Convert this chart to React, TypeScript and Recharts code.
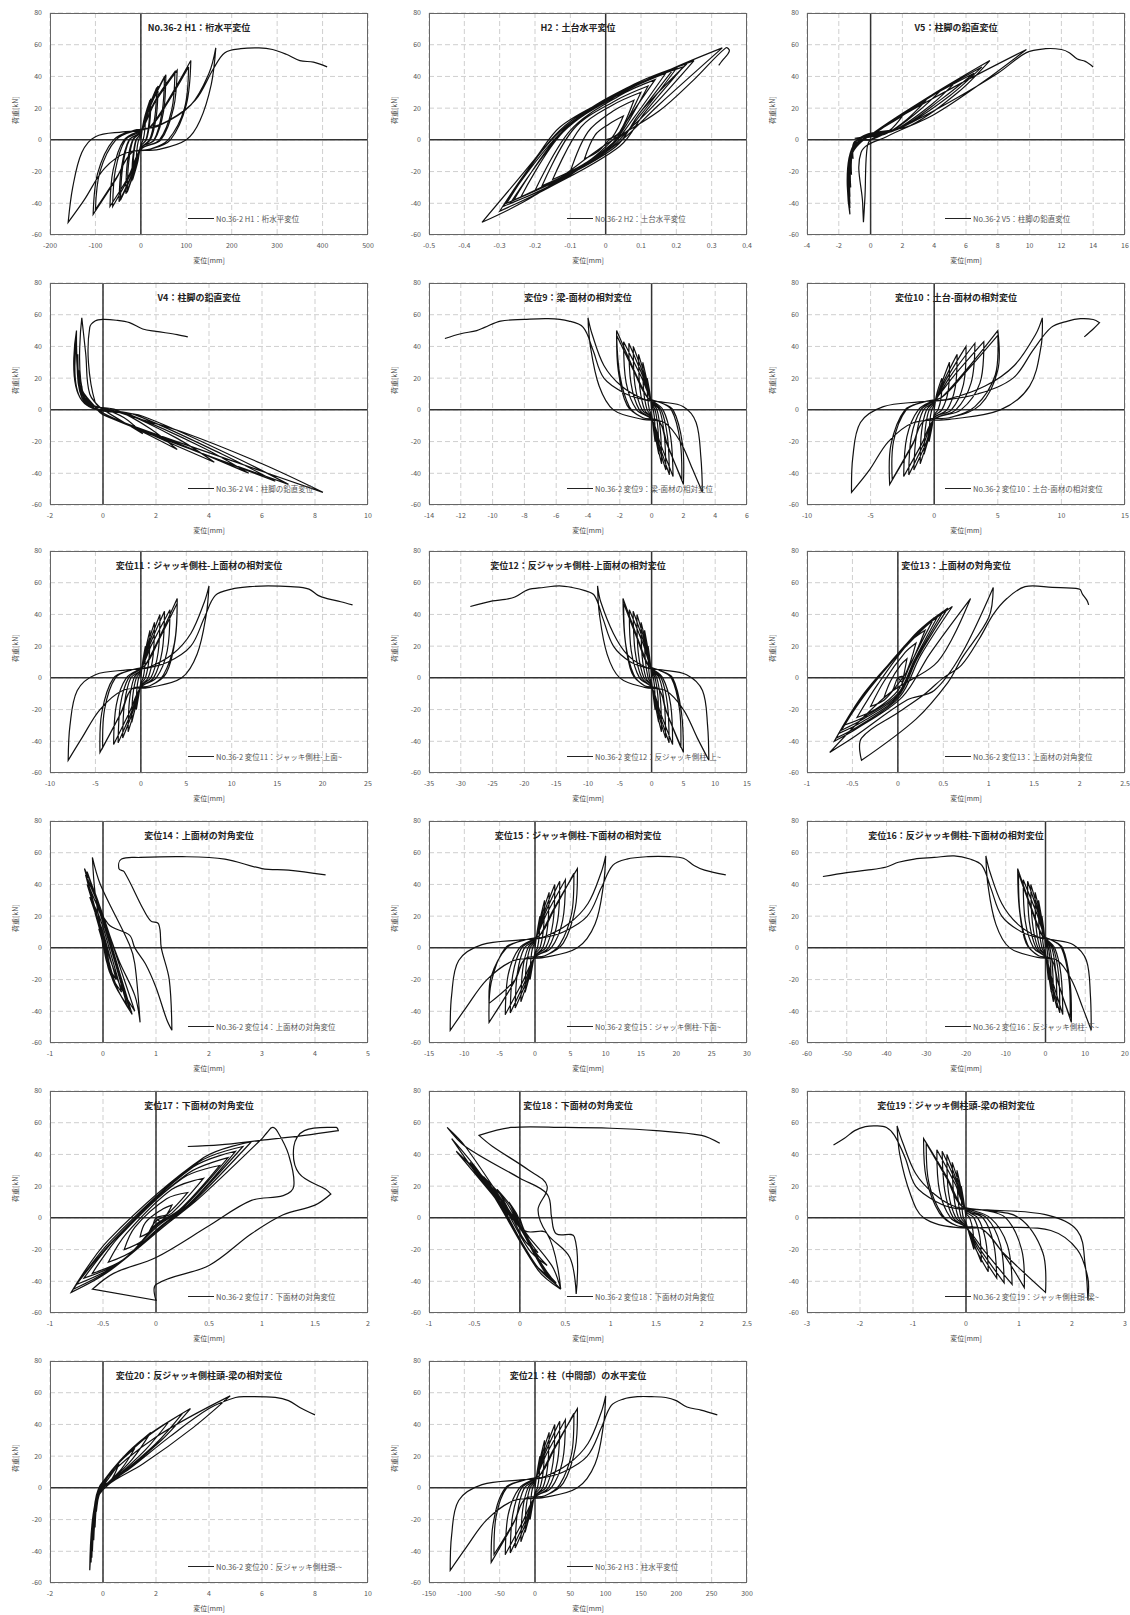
import { LineChart, Line, XAxis, YAxis, CartesianGrid, ReferenceLine } from "recharts";

// load-displacement loops, [displacement, load] in drawing order (one row per cycle)
const h1: number[][] = [
  [0,0],[4,8],[10,15],[9,7],[5,0],[0,-3],[-4,-8],[-10,-15],[-9,-7],[-5,0],[0,3],
  [8,14],[20,25],[18,11],[11,0],[0,-4],[-7,-14],[-18,-25],[-16,-11],[-10,0],[0,4],
  [9,14],[22,26],[20,12],[12,0],[0,-4],[-8,-14],[-20,-26],[-18,-12],[-11,0],[0,4],
  [14,18],[35,33],[31,15],[19,0],[0,-5],[-12,-18],[-30,-33],[-27,-15],[-17,0],[0,5],
  [15,19],[38,34],[34,15],[21,0],[0,-5],[-13,-19],[-33,-34],[-30,-15],[-18,0],[0,5],
  [21,22],[52,40],[47,18],[29,0],[0,-5],[-18,-21],[-45,-38],[-40,-17],[-25,0],[0,5],
  [22,22],[55,41],[50,18],[30,0],[0,-5],[-19,-21],[-48,-39],[-43,-18],[-26,0],[0,5],
  [30,24],[75,43],[68,19],[41,0],[0,-6],[-25,-23],[-62,-42],[-56,-19],[-34,0],[0,6],
  [32,24],[80,44],[72,20],[44,0],[0,-6],[-27,-23],[-68,-42],[-61,-19],[-37,0],[0,6],
  [20,8],[60,25],[110,50],[100,22],[65,0],[20,-6],[-20,-8],[-55,-25],[-105,-47],[-95,-21],[-60,0],[-15,6],
  [20,8],[58,23],[105,46],[96,20],[60,0],[18,-6],[-20,-8],[-52,-23],[-100,-44],[-90,-20],[-55,0],[-10,6],
  [40,9],[110,22],[150,42],[165,58],[155,35],[130,12],[100,0],[40,-6],[-30,-8],[-80,-18],[-125,-38],[-160,-52],[-150,-30],[-130,-8],[-100,2],[-40,5],[0,6],
  [60,12],[120,25],[160,45],[185,55],[220,57.5],[260,58],[290,57],[320,54],[350,50],[380,49],[410,46],
];
const h2: number[][] = [
  [0,0],[0.02,2],[0.05,15],[0.01,10],[-0.03,3],[-0.06,-12],[-0.02,-7],[0.01,0],
  [0.04,5],[0.08,25],[0.02,18],[-0.05,5],[-0.1,-20],[-0.04,-12],[0.02,0],
  [0.05,8],[0.1,30],[0.02,22],[-0.07,8],[-0.15,-25],[-0.06,-15],[0.02,-2],
  [0.06,10],[0.12,34],[0.03,25],[-0.09,7],[-0.18,-29],[-0.08,-18],[0.02,-2],
  [0.06,12],[0.14,38],[0.04,28],[-0.1,6],[-0.2,-32],[-0.09,-20],[0.02,-3],
  [0.08,14],[0.17,42],[0.05,30],[-0.12,5],[-0.24,-36],[-0.11,-22],[0.02,-4],
  [0.1,16],[0.2,45],[0.06,32],[-0.13,6],[-0.28,-40],[-0.14,-26],[0.03,-4],
  [0.09,15],[0.19,44],[0.05,31],[-0.12,6],[-0.26,-38],[-0.13,-24],[0.03,-4],
  [0.1,18],[0.23,48],[0.08,35],[-0.1,10],[-0.27,-40],[-0.12,-25],[0.02,-2],
  [0.12,18],[0.25,50],[0.1,36],[-0.13,5],[-0.3,-45],[-0.16,-30],[0.04,-4],
  [0.11,17],[0.22,46],[0.08,34],[-0.12,6],[-0.29,-42],[-0.15,-28],[0.03,-3],
  [0.15,22],[0.33,58],[0.2,46],[0,25],[-0.13,8],[-0.2,-12],[-0.35,-52],[-0.2,-35],[0,-3],[0.15,18],
  [0.25,38],[0.34,58],[0.35,56],[0.33,50],[0.32,47],
];
const v5: number[][] = [
  [0,0],[-1,1],[0,3],[1,9],[2,15],[1.2,6],[0,0],[-1,-1],[-1.1,-12],[-1,-3],
  [0,3],[1.8,14],[3.5,25],[2.3,13],[1,4],[-0.9,-2],[-1.2,-22],[-1.05,-5],
  [0,3],[2.2,17],[4.5,32],[3,18],[1.2,5],[-1,-2],[-1.25,-30],[-1.1,-6],
  [0,3],[2.8,21],[5.5,38],[3.8,22],[1.5,6],[-1,-2],[-1.3,-36],[-1.1,-7],
  [0,3],[3.2,24],[6.5,42],[4.5,26],[1.8,7],[-1,-2],[-1.3,-40],[-1.15,-8],
  [0,3],[3.5,26],[7,46],[5,28],[2,8],[-1,-2],[-1.3,-43],[-1.15,-8],
  [0,3],[3.8,28],[7.5,50],[5.5,30],[2.5,9],[-1,-2],[-1.3,-47],[-1.2,-10],
  [0,3],[5,32],[9.8,57],[7,36],[4,16],[1,2],[-0.6,-8],[-0.5,-40],[-0.45,-52],[-0.35,-35],[-0.25,-8],[0,0],
  [2,8],[5,24],[8,42],[9.8,55],[11,57.5],[12,57],[12.5,55],[13,51],[13.5,49.5],[14,46],
];
const v4: number[][] = [
  [0,0],[0.8,-8],[1.5,-15],[0.8,-5],[0,1],[-0.6,4],[-0.8,15],[-0.7,6],[-0.3,2],
  [0,-2],[1.5,-14],[2.8,-25],[1.8,-12],[0.5,0],[-0.7,5],[-0.9,25],[-0.75,8],[-0.3,2],
  [0,-2],[2,-17],[4.2,-33],[2.8,-18],[0.8,-2],[-0.7,5],[-0.95,35],[-0.8,10],[-0.3,2],
  [0,-3],[2.8,-21],[5.5,-40],[3.8,-24],[1,-3],[-0.8,6],[-1,42],[-0.85,12],[-0.3,2],
  [0,-3],[3.2,-24],[6.5,-45],[4.5,-28],[1.2,-3],[-0.8,6],[-1,48],[-0.85,14],[-0.3,2],
  [0,-3],[3.5,-26],[7,-47],[5,-30],[1.5,-4],[-0.8,6],[-1,50],[-0.85,15],[-0.3,2],
  [0,-3],[4.5,-30],[8.3,-52],[6,-34],[3,-14],[0.5,-1],[-0.7,8],[-0.8,58],[-0.65,35],[-0.5,10],[0,0],
  [-0.3,5],[-0.55,30],[-0.5,52],[-0.3,56],[0,57],[0.5,56.5],[1,55],[1.5,51],[2,49.5],[2.8,47.5],[3.2,46],
];
const d9: number[][] = [
  [0,0],[-0.1,10],[-0.28,20],[-0.25,8],[-0.14,0],[0,-3],[0.09,-10],[0.22,-20],[0.2,-8],[0.11,0],[0,3],
  [-0.22,15],[-0.55,30],[-0.5,12],[-0.28,0],[0,-4],[0.18,-14],[0.45,-28],[0.4,-12],[0.22,0],[0,4],
  [-0.33,18],[-0.82,35],[-0.74,14],[-0.44,0],[0,-5],[0.25,-18],[0.63,-34],[0.56,-14],[0.34,0],[0,5],
  [-0.44,20],[-1.15,40],[-1.05,16],[-0.6,0],[0,-5],[0.36,-20],[0.9,-38],[0.8,-16],[0.5,0],[0,5],
  [-0.55,21],[-1.43,42],[-1.3,17],[-0.77,0],[0,-6],[0.45,-21],[1.12,-41],[1,-17],[0.6,0],[0,6],
  [-0.66,21],[-1.76,43],[-1.6,17],[-0.94,0],[0,-6],[0.54,-21],[1.35,-42],[1.2,-17],[0.72,0],[0,6],
  [-0.28,8],[-1.1,25],[-2.2,50],[-2.1,25],[-1.55,3],[-0.55,-5],[0.45,-7],[1,-22],[2,-47],[1.95,-22],[1.35,0],[0.45,5],
  [-0.28,8],[-1.1,24],[-2.2,47],[-2,22],[-1.4,2],[-0.55,-5],[0.45,-7],[0.9,-20],[1.9,-44],[1.8,-20],[1.25,0],[0.45,5],
  [-0.55,7],[-1.9,15],[-3,28],[-3.75,48],[-4,58],[-3.85,40],[-3.3,15],[-2.4,0],[-0.55,-6],[0.8,-8],[1.8,-20],[2.6,-38],[3.2,-52],[3.1,-30],[2.8,-8],[2,2],[0.6,5],[-0.3,6],
  [-1.6,10],[-3,20],[-3.7,38],[-4.3,52],[-5.2,56],[-6.5,57.5],[-8,57],[-9.5,56],[-10.5,52],[-11,50],[-12,48],[-13,45],
];
const d10: number[][] = [
  [0,0],[0.2,10],[0.6,20],[0.55,8],[0.3,0],[0,-3],[-0.15,-10],[-0.4,-20],[-0.35,-8],[-0.2,0],[0,3],
  [0.5,15],[1.2,30],[1.1,12],[0.6,0],[0,-4],[-0.3,-14],[-0.8,-28],[-0.7,-12],[-0.4,0],[0,4],
  [0.75,18],[1.8,35],[1.65,14],[1,0],[0,-5],[-0.45,-18],[-1.1,-34],[-1,-14],[-0.6,0],[0,5],
  [1,20],[2.5,40],[2.3,16],[1.35,0],[0,-5],[-0.6,-20],[-1.6,-38],[-1.4,-16],[-0.85,0],[0,5],
  [1.25,21],[3.2,42],[2.9,17],[1.7,0],[0,-6],[-0.8,-21],[-2,-41],[-1.8,-17],[-1.05,0],[0,6],
  [1.5,21],[3.9,43],[3.6,17],[2.1,0],[0,-6],[-0.95,-21],[-2.4,-42],[-2.15,-17],[-1.25,0],[0,6],
  [0.6,8],[2.5,25],[5,50],[5,25],[3.6,3],[1.2,-5],[-0.8,-7],[-1.7,-22],[-3.5,-47],[-3.4,-22],[-2.3,0],[-0.8,5],
  [0.6,8],[2.5,24],[5,47],[4.8,22],[3.2,2],[1.2,-5],[-0.8,-7],[-1.6,-20],[-3.3,-44],[-3.2,-20],[-2.2,0],[-0.8,5],
  [1.2,7],[4,15],[6.3,28],[8,48],[8.5,58],[8.4,40],[7.5,15],[5.2,0],[1.2,-6],[-1.6,-8],[-3.6,-20],[-5.1,-38],[-6.5,-52],[-6.4,-30],[-5.8,-8],[-4,2],[-1.2,5],[0.6,6],
  [3.4,10],[6.2,20],[7.8,38],[9.2,52],[10.5,56],[11.5,57.5],[12.5,57],[13,55],[12.5,51],[11.8,46],
];
const d11: number[][] = [
  [0,0],[0.2,10],[0.5,20],[0.45,8],[0.25,0],[0,-3],[-0.2,-10],[-0.5,-20],[-0.45,-8],[-0.25,0],[0,3],
  [0.4,15],[1,30],[0.9,12],[0.5,0],[0,-4],[-0.4,-14],[-1,-28],[-0.9,-12],[-0.5,0],[0,4],
  [0.6,18],[1.5,35],[1.35,14],[0.8,0],[0,-5],[-0.55,-18],[-1.4,-34],[-1.25,-14],[-0.75,0],[0,5],
  [0.8,20],[2.1,40],[1.9,16],[1.1,0],[0,-5],[-0.8,-20],[-2,-38],[-1.8,-16],[-1.1,0],[0,5],
  [1,21],[2.6,42],[2.35,17],[1.4,0],[0,-6],[-1,-21],[-2.5,-41],[-2.25,-17],[-1.35,0],[0,6],
  [1.2,21],[3.2,43],[2.9,17],[1.7,0],[0,-6],[-1.2,-21],[-3,-42],[-2.7,-17],[-1.6,0],[0,6],
  [0.5,8],[2,25],[4,50],[3.8,25],[2.8,3],[1,-5],[-1,-7],[-2.2,-22],[-4.5,-47],[-4.3,-22],[-3,0],[-1,5],
  [0.5,8],[2,24],[4,47],[3.7,22],[2.5,2],[1,-5],[-1,-7],[-2,-20],[-4.2,-44],[-4,-20],[-2.8,0],[-1,5],
  [1,7],[3.5,15],[5.5,28],[7,48],[7.5,58],[7.2,40],[6.2,15],[4.5,0],[1,-6],[-2,-8],[-4.5,-20],[-6.5,-38],[-8,-52],[-7.8,-30],[-7,-8],[-5,2],[-1.5,5],[0.5,6],
  [3,10],[5.5,20],[7,38],[8.2,52],[10,56],[12,57.5],[14,58],[16.5,57.5],[18.5,56],[19.5,52],[20.5,50],[22,48],[23.3,46],
];
const d12: number[][] = [
  [0,0],[-0.22,10],[-0.55,20],[-0.5,8],[-0.28,0],[0,-3],[0.22,-10],[0.55,-20],[0.5,-8],[0.28,0],[0,3],
  [-0.44,15],[-1.1,30],[-1,12],[-0.55,0],[0,-4],[0.44,-14],[1.1,-28],[1,-12],[0.55,0],[0,4],
  [-0.66,18],[-1.65,35],[-1.5,14],[-0.88,0],[0,-5],[0.6,-18],[1.55,-34],[1.4,-14],[0.82,0],[0,5],
  [-0.88,20],[-2.3,40],[-2.1,16],[-1.2,0],[0,-5],[0.88,-20],[2.2,-38],[2,-16],[1.2,0],[0,5],
  [-1.1,21],[-2.9,42],[-2.6,17],[-1.55,0],[0,-6],[1.1,-21],[2.75,-41],[2.5,-17],[1.5,0],[0,6],
  [-1.3,21],[-3.5,43],[-3.2,17],[-1.9,0],[0,-6],[1.3,-21],[3.3,-42],[3,-17],[1.75,0],[0,6],
  [-0.55,8],[-2.2,25],[-4.5,50],[-4.2,25],[-3.1,3],[-1.1,-5],[1.1,-7],[2.4,-22],[5,-47],[4.7,-22],[3.3,0],[1.1,5],
  [-0.55,8],[-2.2,24],[-4.4,47],[-4.1,22],[-2.8,2],[-1.1,-5],[1.1,-7],[2.2,-20],[4.6,-44],[4.4,-20],[3.1,0],[1.1,5],
  [-1.1,7],[-3.9,15],[-6,28],[-8,48],[-8.5,58],[-8.2,40],[-7,15],[-5,0],[-1.1,-6],[2.2,-8],[5,-20],[7.2,-38],[9,-52],[8.8,-30],[8,-8],[5.5,2],[1.6,5],[-0.5,6],
  [-3.3,10],[-6,20],[-7.7,38],[-9,52],[-10.5,55],[-12.5,57],[-14.5,58],[-17,57],[-19.5,55.5],[-21.5,51],[-23,49.5],[-25,48.5],[-28.5,45],
];
const d13: number[][] = [
  [0,0],[0.05,-3],[0.1,12],[0.03,8],[-0.08,-2],[-0.15,-12],[-0.06,-8],[0,0],
  [0.08,2],[0.2,22],[0.08,16],[-0.15,-2],[-0.3,-18],[-0.15,-14],[0,-4],
  [0.12,6],[0.3,30],[0.12,22],[-0.22,-4],[-0.45,-25],[-0.25,-20],[0,-8],
  [0.15,10],[0.4,38],[0.18,27],[-0.3,-6],[-0.6,-30],[-0.35,-24],[0,-10],
  [0.18,11],[0.45,40],[0.2,28],[-0.32,-7],[-0.62,-33],[-0.38,-26],[0,-11],
  [0.2,12],[0.5,42],[0.25,30],[-0.3,-6],[-0.65,-35],[-0.4,-28],[0,-12],
  [0.22,13],[0.55,44],[0.28,31],[-0.33,-7],[-0.68,-38],[-0.42,-30],[0.02,-12],
  [0.25,14],[0.6,45],[0.3,32],[-0.35,-8],[-0.7,-40],[-0.45,-32],[0.05,-12],
  [0.35,15],[0.8,50],[0.6,25],[0.4,8],[-0.1,-10],[-0.75,-47],[-0.5,-38],[0.1,-14],[0.4,-8],
  [0.7,15],[1.05,57],[1,38],[0.7,12],[0.55,-3],[0.2,-26],[-0.4,-52],[-0.4,-38],[0,-22],[0.3,-10],[0.5,0],
  [0.7,8],[0.9,25],[1.05,40],[1.2,50],[1.4,57.5],[1.7,57],[2,56],[2.03,53],[2.08,49],[2.1,46],
];
const d14: number[][] = [
  [0,0],[-0.02,5],[-0.08,12],[0,5],[0.08,-4],[0.12,-10],[0.04,-4],[0,2],
  [-0.05,10],[-0.15,22],[-0.02,12],[0.15,-8],[0.25,-20],[0.08,-10],[0,3],
  [-0.08,15],[-0.25,32],[-0.05,18],[0.2,-10],[0.35,-28],[0.12,-15],[0,5],
  [-0.12,20],[-0.3,40],[-0.08,24],[0.25,-12],[0.45,-36],[0.18,-20],[-0.02,8],
  [-0.14,22],[-0.32,45],[-0.09,27],[0.28,-13],[0.5,-39],[0.22,-22],[-0.02,9],
  [-0.15,25],[-0.35,50],[-0.1,30],[0.3,-14],[0.55,-42],[0.25,-24],[-0.03,10],
  [-0.18,28],[-0.33,46],[-0.08,28],[0.32,-12],[0.6,-40],[0.3,-22],[-0.02,10],
  [-0.15,35],[-0.2,57],[-0.05,40],[0.5,2],[0.6,-10],[0.7,-47],[0.6,-30],[0.3,-8],[0,20],[-0.3,48],[-0.28,40],[0.1,15],[0.5,8],[0.6,0],
  [0.8,-10],[1,-25],[1.2,-45],[1.3,-52],[1.25,-20],[1.1,0],[1.05,15],[0.9,17],[0.75,25],[0.4,48],[0.3,50],[0.35,56],
  [0.7,57],[1.5,57.5],[2.3,56],[3,50],[3.5,49],[4.2,46],
];
const d15: number[][] = [
  [0,0],[0.3,10],[0.7,20],[0.6,8],[0.35,0],[0,-3],[-0.3,-10],[-0.7,-20],[-0.6,-8],[-0.35,0],[0,3],
  [0.55,15],[1.35,30],[1.2,12],[0.7,0],[0,-4],[-0.55,-14],[-1.4,-28],[-1.25,-12],[-0.7,0],[0,4],
  [0.8,18],[2,35],[1.8,14],[1.1,0],[0,-5],[-0.8,-18],[-2,-34],[-1.75,-14],[-1,0],[0,5],
  [1.1,20],[2.8,40],[2.55,16],[1.5,0],[0,-5],[-1.1,-20],[-2.8,-38],[-2.5,-16],[-1.5,0],[0,5],
  [1.35,21],[3.5,42],[3.2,17],[1.9,0],[0,-6],[-1.4,-21],[-3.5,-41],[-3.15,-17],[-1.9,0],[0,6],
  [1.6,21],[4.3,43],[3.9,17],[2.3,0],[0,-6],[-1.7,-21],[-4.2,-42],[-3.8,-17],[-2.2,0],[0,6],
  [0.7,8],[2.7,25],[6,50],[5.7,25],[4,3],[1.4,-5],[-1.4,-7],[-3,-22],[-6.5,-47],[-6.2,-22],[-4.2,0],[-1.4,5],
  [0.7,8],[2.7,24],[5.5,47],[5.2,22],[3.5,2],[1.4,-5],[-1.4,-7],[-2.8,-20],[-6.5,-35],[-6.2,-18],[-4,0],[-1.4,5],
  [1.3,7],[4.7,15],[7.5,28],[9.4,48],[10,58],[9.7,40],[8.5,15],[6,0],[1.3,-6],[-3,-8],[-6.8,-20],[-9.8,-38],[-12,-52],[-11.8,-30],[-10.8,-8],[-7.5,2],[-2,5],[0.7,6],
  [4,10],[7.4,20],[9.4,38],[11,52],[13,56],[16,57.5],[19,57.5],[21,56.5],[22.5,52],[24,49],[27,46],
];
const d16: number[][] = [
  [0,0],[-0.35,10],[-0.9,20],[-0.8,8],[-0.45,0],[0,-3],[0.3,-10],[0.72,-20],[0.65,-8],[0.36,0],[0,3],
  [-0.7,15],[-1.75,30],[-1.6,12],[-0.9,0],[0,-4],[0.58,-14],[1.45,-28],[1.3,-12],[0.72,0],[0,4],
  [-1.05,18],[-2.6,35],[-2.4,14],[-1.4,0],[0,-5],[0.8,-18],[2,-34],[1.8,-14],[1.1,0],[0,5],
  [-1.4,20],[-3.7,40],[-3.3,16],[-1.9,0],[0,-5],[1.15,-20],[2.9,-38],[2.6,-16],[1.6,0],[0,5],
  [-1.75,21],[-4.5,42],[-4.1,17],[-2.4,0],[0,-6],[1.45,-21],[3.6,-41],[3.3,-17],[1.95,0],[0,6],
  [-2.1,21],[-5.6,43],[-5.1,17],[-3,0],[0,-6],[1.75,-21],[4.35,-42],[3.9,-17],[2.3,0],[0,6],
  [-0.9,8],[-3.5,25],[-7,50],[-6.6,25],[-4.9,3],[-1.75,-5],[1.45,-7],[3.2,-22],[6.5,-47],[6.2,-22],[4.3,0],[1.45,5],
  [-0.9,8],[-3.5,24],[-6.8,47],[-6.4,22],[-4.5,2],[-1.75,-5],[1.45,-7],[2.9,-20],[6.2,-44],[5.9,-20],[4,0],[1.45,5],
  [-2,7],[-7,15],[-11,28],[-14,48],[-15,58],[-14.5,40],[-12.5,15],[-9,0],[-2,-6],[3,-8],[6.5,-20],[9.4,-38],[11.5,-52],[11.3,-30],[10.3,-8],[7,2],[2,5],[-1,6],
  [-6,10],[-11,20],[-13.8,38],[-16,52],[-19,56],[-23,58],[-28,57],[-33,56],[-37,54],[-40,51],[-45,49],[-50,47.5],[-56,45],
];
const d17: number[][] = [
  [0,0],[0.05,-2],[0.15,8],[0.05,5],[-0.1,-3],[-0.15,-12],[-0.05,-8],[0,0],
  [0.1,2],[0.3,16],[0.1,12],[-0.2,-6],[-0.3,-20],[-0.12,-14],[0,-2],
  [0.15,3],[0.45,25],[0.15,18],[-0.28,-10],[-0.45,-28],[-0.2,-20],[0,-4],
  [0.22,5],[0.6,33],[0.25,25],[-0.35,-12],[-0.6,-35],[-0.3,-26],[0,-5],
  [0.25,6],[0.68,38],[0.3,28],[-0.38,-13],[-0.68,-38],[-0.34,-28],[0.02,-5],
  [0.3,8],[0.75,42],[0.35,32],[-0.4,-14],[-0.75,-42],[-0.38,-30],[0.05,-5],
  [0.32,9],[0.82,45],[0.4,35],[-0.42,-14],[-0.78,-45],[-0.42,-32],[0.08,-4],
  [0.35,10],[0.9,48],[0.45,38],[-0.45,-14],[-0.8,-47],[-0.45,-34],[0.1,-4],
  [0.4,12],[1,50],[1.05,54],[1.1,57],[1.15,54],[1.25,40],[1.3,20],[1.2,14],[0.9,11],[0.5,-5],[0,-25],[-0.4,-35],[-0.6,-45],
  [0,-52],[0,-42],[0.5,-30],[0.9,-10],[1.2,2],[1.5,8],[1.65,15],[1.6,18],[1.35,28],[1.3,45],[1.4,55],[1.7,57],[1.72,55],
  [1.4,52],[1,49],[0.6,46],[0.3,45],
];
const d18: number[][] = [
  [0,0],[0.05,-8],[0.1,-12],[0,-5],[-0.08,5],[-0.12,10],[-0.04,3],[0,-2],
  [0.1,-14],[0.2,-22],[0.05,-14],[-0.15,8],[-0.25,18],[-0.08,6],[0,-4],
  [0.15,-20],[0.3,-30],[0.1,-20],[-0.22,12],[-0.4,26],[-0.15,10],[0,-6],
  [0.2,-26],[0.35,-38],[0.15,-28],[-0.3,18],[-0.55,35],[-0.25,14],[0,-6],
  [0.22,-29],[0.4,-41],[0.18,-30],[-0.34,20],[-0.62,38],[-0.3,16],[0.01,-7],
  [0.25,-32],[0.45,-45],[0.2,-33],[-0.38,22],[-0.7,42],[-0.35,18],[0.02,-8],
  [0.25,-30],[0.4,-42],[0.18,-30],[-0.4,25],[-0.75,50],[-0.4,22],[0.05,-8],
  [0.3,-10],[0.45,-45],[0.35,-30],[0,-5],[-0.6,45],[-0.8,57],[-0.6,45],[0,25],[0.3,15],[0.35,0],[0.4,-10],[0.6,-12],[0.62,-48],
  [0.55,-25],[0.3,-10],[0.2,5],[0.3,20],[0.1,30],[-0.3,45],[-0.45,52],[-0.1,57],[0.5,57],[1,56.5],[1.5,55],[2,52],[2.2,47],
];
const d19: number[][] = [
  [0,0],[-0.04,10],[-0.09,20],[-0.08,8],[-0.05,0],[0,-3],[0.06,-10],[0.15,-20],[0.13,-8],[0.07,0],[0,3],
  [-0.07,15],[-0.17,30],[-0.15,12],[-0.09,0],[0,-4],[0.12,-14],[0.29,-28],[0.26,-12],[0.15,0],[0,4],
  [-0.1,18],[-0.26,35],[-0.23,14],[-0.14,0],[0,-5],[0.16,-18],[0.42,-34],[0.37,-14],[0.22,0],[0,5],
  [-0.14,20],[-0.36,40],[-0.33,16],[-0.19,0],[0,-5],[0.23,-20],[0.58,-38],[0.52,-16],[0.32,0],[0,5],
  [-0.17,21],[-0.45,42],[-0.4,17],[-0.24,0],[0,-6],[0.29,-21],[0.72,-41],[0.65,-17],[0.39,0],[0,6],
  [-0.2,21],[-0.55,43],[-0.5,17],[-0.29,0],[0,-6],[0.35,-21],[0.87,-42],[0.78,-17],[0.46,0],[0,6],
  [-0.1,8],[-0.35,25],[-0.8,50],[-0.75,25],[-0.5,3],[-0.17,-5],[0.3,-7],[0.7,-22],[1.5,-47],[1.45,-22],[1,0],[0.3,5],
  [-0.1,8],[-0.35,24],[-0.75,47],[-0.7,22],[-0.45,2],[-0.17,-5],[0.3,-7],[0.65,-20],[1.1,-44],[1.05,-20],[0.75,0],[0.3,5],
  [-0.2,7],[-0.6,15],[-0.95,28],[-1.2,48],[-1.3,58],[-1.25,40],[-1.05,15],[-0.8,0],[-0.2,-6],[0.7,-6],[1.6,-8],[2.1,-20],[2.3,-38],[2.3,-52],
  [2.25,-30],[2.1,-8],[1.5,2],[0.4,5],[-0.2,6],
  [-0.55,10],[-0.95,20],[-1.15,38],[-1.35,52],[-1.5,57],[-1.7,58],[-1.9,57.5],[-2.1,55],[-2.3,50],[-2.5,46],
];
const d20: number[][] = [
  [0,0],[0,1],[0.3,8],[0.6,15],[0.35,6],[0,0],[-0.2,-2],[-0.25,-15],[-0.15,-4],
  [0,2],[0.5,14],[1.2,25],[0.7,12],[0.1,2],[-0.2,-2],[-0.3,-25],[-0.2,-5],
  [0,3],[0.8,20],[1.8,35],[1.1,18],[0.2,3],[-0.2,-2],[-0.35,-33],[-0.22,-6],
  [0,3],[1.1,25],[2.5,42],[1.6,24],[0.3,4],[-0.2,-2],[-0.4,-40],[-0.25,-7],
  [0,4],[1.3,28],[3,47],[2,28],[0.4,5],[-0.2,-2],[-0.42,-44],[-0.28,-8],
  [0,4],[1.5,30],[3.3,50],[2.2,30],[0.5,6],[-0.2,-2],[-0.45,-47],[-0.3,-9],
  [0,4],[2,32],[4.8,58],[3.4,38],[1.5,15],[0.2,2],[-0.3,-10],[-0.5,-52],[-0.4,-30],[-0.2,-8],[0,0],
  [1,12],[2.5,32],[4,50],[5,57],[5.5,57.5],[6.5,57],[7,55],[7.5,50],[8,46],
];
const d21: number[][] = [
  [0,0],[3,10],[7,20],[6,8],[3.5,0],[0,-3],[-3,-10],[-7,-20],[-6,-8],[-3.5,0],[0,3],
  [5.5,15],[13.5,30],[12,12],[7,0],[0,-4],[-5.5,-14],[-14,-28],[-12.5,-12],[-7,0],[0,4],
  [8,18],[20,35],[18,14],[11,0],[0,-5],[-8,-18],[-20,-34],[-17.5,-14],[-10,0],[0,5],
  [11,20],[28,40],[25.5,16],[15,0],[0,-5],[-11,-20],[-28,-38],[-25,-16],[-15,0],[0,5],
  [13.5,21],[35,42],[32,17],[19,0],[0,-6],[-14,-21],[-35,-41],[-31.5,-17],[-19,0],[0,6],
  [16,21],[43,43],[39,17],[23,0],[0,-6],[-17,-21],[-42,-42],[-38,-17],[-22,0],[0,6],
  [7,8],[27,25],[60,50],[57,25],[40,3],[14,-5],[-14,-7],[-30,-22],[-62,-47],[-59,-22],[-42,0],[-14,5],
  [7,8],[27,24],[55,47],[52,22],[35,2],[14,-5],[-14,-7],[-28,-20],[-58,-42],[-55,-18],[-40,0],[-14,5],
  [13,7],[47,15],[75,28],[94,48],[100,58],[97,40],[85,15],[60,0],[13,-6],[-30,-8],[-68,-20],[-98,-38],[-120,-52],[-118,-30],[-108,-8],[-75,2],[-20,5],[7,6],
  [40,10],[74,20],[94,38],[108,52],[125,56],[145,57.5],[165,57.5],[185,57],[200,55],[215,51],[235,49],[258,46],
];

const series = [h1, h2, v5, v4, d9, d10, d11, d12, d13, d14, d15, d16, d17, d18, d19, d20, d21];

const titles = [
  "No.36-2 H1：桁水平変位", "H2：土台水平変位", "V5：柱脚の鉛直変位",
  "V4：柱脚の鉛直変位", "変位9：梁-面材の相対変位", "変位10：土台-面材の相対変位",
  "変位11：ジャッキ側柱-上面材の相対変位", "変位12：反ジャッキ側柱-上面材の相対変位", "変位13：上面材の対角変位",
  "変位14：上面材の対角変位", "変位15：ジャッキ側柱-下面材の相対変位", "変位16：反ジャッキ側柱-下面材の相対変位",
  "変位17：下面材の対角変位", "変位18：下面材の対角変位", "変位19：ジャッキ側柱頭-梁の相対変位",
  "変位20：反ジャッキ側柱頭-梁の相対変位", "変位21：柱（中間部）の水平変位",
];

const legends = [
  "No.36-2 H1：桁水平変位", "No.36-2 H2：土台水平変位", "No.36-2 V5：柱脚の鉛直変位",
  "No.36-2 V4：柱脚の鉛直変位", "No.36-2 変位9：梁-面材の相対変位", "No.36-2 変位10：土台-面材の相対変位",
  "No.36-2 変位11：ジャッキ側柱-上面~", "No.36-2 変位12：反ジャッキ側柱-上~", "No.36-2 変位13：上面材の対角変位",
  "No.36-2 変位14：上面材の対角変位", "No.36-2 変位15：ジャッキ側柱-下面~", "No.36-2 変位16：反ジャッキ側柱-下~",
  "No.36-2 変位17：下面材の対角変位", "No.36-2 変位18：下面材の対角変位", "No.36-2 変位19：ジャッキ側柱頭-梁~",
  "No.36-2 変位20：反ジャッキ側柱頭-~", "No.36-2 H3：柱水平変位",
];

const xTicks: number[][] = [
  [-200, -100, 0, 100, 200, 300, 400, 500],
  [-0.5, -0.4, -0.3, -0.2, -0.1, 0, 0.1, 0.2, 0.3, 0.4],
  [-4, -2, 0, 2, 4, 6, 8, 10, 12, 14, 16],
  [-2, 0, 2, 4, 6, 8, 10],
  [-14, -12, -10, -8, -6, -4, -2, 0, 2, 4, 6],
  [-10, -5, 0, 5, 10, 15],
  [-10, -5, 0, 5, 10, 15, 20, 25],
  [-35, -30, -25, -20, -15, -10, -5, 0, 5, 10, 15],
  [-1, -0.5, 0, 0.5, 1, 1.5, 2, 2.5],
  [-1, 0, 1, 2, 3, 4, 5],
  [-15, -10, -5, 0, 5, 10, 15, 20, 25, 30],
  [-60, -50, -40, -30, -20, -10, 0, 10, 20],
  [-1, -0.5, 0, 0.5, 1, 1.5, 2],
  [-1, -0.5, 0, 0.5, 1, 1.5, 2, 2.5],
  [-3, -2, -1, 0, 1, 2, 3],
  [-2, 0, 2, 4, 6, 8, 10],
  [-150, -100, -50, 0, 50, 100, 150, 200, 250, 300],
];

const yTicks = [-60, -40, -20, 0, 20, 40, 60, 80];

const colLeft = [0, 379, 757];
const rowTop = [1, 271, 539, 809, 1079, 1349];
const W = 376;
const H = 270;
const M = { top: 12, right: 8, bottom: 6, left: 10 };
const FONT = "'Noto Sans CJK JP', 'Noto Sans', sans-serif";

// smooth curve through the points (pixel space); sharp reversals keep a corner
function smoothLoop(context: any) {
  let pts: number[][] = [];
  const tangent = (k: number) => {
    const p = pts[k];
    const a = pts[Math.max(k - 1, 0)];
    const b = pts[Math.min(k + 1, pts.length - 1)];
    const inX = p[0] - a[0], inY = p[1] - a[1];
    const outX = b[0] - p[0], outY = b[1] - p[1];
    if (k === 0 || k === pts.length - 1 || inX * outX + inY * outY < 0) return [0, 0];
    const tx = b[0] - a[0], ty = b[1] - a[1];
    const len = Math.hypot(tx, ty) || 1;
    return [tx / len, ty / len];
  };
  return {
    areaStart() {},
    areaEnd() {},
    lineStart() { pts = []; },
    point(x: number, y: number) { pts.push([x, y]); },
    lineEnd() {
      if (!pts.length) return;
      context.moveTo(pts[0][0], pts[0][1]);
      for (let k = 0; k < pts.length - 1; k++) {
        const p1 = pts[k], p2 = pts[k + 1];
        const L = Math.hypot(p2[0] - p1[0], p2[1] - p1[1]) / 3;
        const t1 = tangent(k), t2 = tangent(k + 1);
        context.bezierCurveTo(
          p1[0] + t1[0] * L, p1[1] + t1[1] * L,
          p2[0] - t2[0] * L, p2[1] - t2[1] * L,
          p2[0], p2[1]
        );
      }
    },
  };
}

function Panel({ i }: { i: number }) {
  const ticks = xTicks[i];
  const data = series[i].map(([x, y]) => ({ x, y }));
  const left = colLeft[i % 3];
  const top = rowTop[Math.floor(i / 3)];
  const plotL = M.left + 40;
  const plotW = W - plotL - M.right;
  const plotH = H - M.top - M.bottom - 30;
  return (
    <div style={{ position: "absolute", left, top, width: W, height: H }}>
      <LineChart width={W} height={H} data={data} margin={M}>
        <CartesianGrid strokeDasharray="5 3" stroke="#cfcfcf" />
        <XAxis
          dataKey="x"
          type="number"
          domain={[ticks[0], ticks[ticks.length - 1]]}
          ticks={ticks}
          interval={0}
          allowDataOverflow
          axisLine={false}
          tickLine={false}
          height={30}
          tick={{ fontSize: 7, fill: "#555", fontFamily: FONT }}
          label={{ value: "変位[mm]", position: "insideBottom", offset: 2, fontSize: 7, fill: "#444", fontFamily: FONT }}
        />
        <YAxis
          type="number"
          domain={[-60, 80]}
          ticks={yTicks}
          interval={0}
          axisLine={false}
          tickLine={false}
          width={40}
          tick={{ fontSize: 7, fill: "#555", fontFamily: FONT }}
          label={{ value: "荷重[kN]", angle: -90, position: "insideLeft", offset: 6, fontSize: 7, fill: "#444", fontFamily: FONT }}
        />
        <ReferenceLine x={0} stroke="#333" strokeWidth={1.5} />
        <ReferenceLine y={0} stroke="#333" strokeWidth={1.5} />
        <Line
          dataKey="y"
          type={smoothLoop as any}
          dot={false}
          stroke="#111"
          strokeWidth={1.2}
          isAnimationActive={false}
        />
      </LineChart>
      <div
        style={{
          position: "absolute", left: plotL, top: M.top, width: plotW, height: plotH,
          border: "1.5px solid #666", boxSizing: "border-box", pointerEvents: "none",
        }}
      />
      <div
        style={{
          position: "absolute", left: plotL - 10, top: M.top + 8, width: plotW,
          textAlign: "center", fontSize: 9, fontWeight: 700, fontFamily: FONT, color: "#222",
          whiteSpace: "nowrap",
        }}
      >
        {titles[i]}
      </div>
      <div
        style={{
          position: "absolute", left: plotL + 138, top: M.top + 200, width: plotW - 142,
          display: "flex", alignItems: "center", fontSize: 7.5, fontFamily: FONT, color: "#555",
          whiteSpace: "nowrap", overflow: "hidden",
        }}
      >
        <span style={{ display: "inline-block", width: 26, borderTop: "1.5px solid #222", marginRight: 2 }} />
        {legends[i]}
      </div>
    </div>
  );
}

export default function App() {
  return (
    <div style={{ position: "absolute", left: 0, top: 0, width: 1130, height: 1615, background: "#fff" }}>
      {series.map((_, i) => (
        <Panel key={i} i={i} />
      ))}
    </div>
  );
}
